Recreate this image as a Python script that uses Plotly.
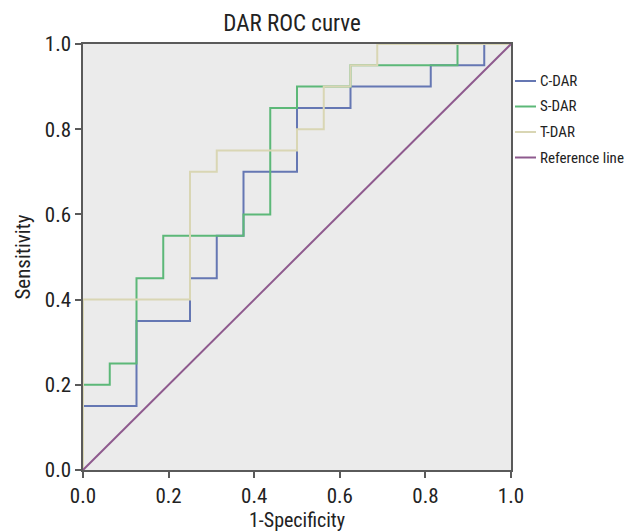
import plotly.graph_objects as go

# ROC operating points (1-Specificity, Sensitivity)
c_dar_fpr = [0, 0, 0.125, 0.25, 0.3125, 0.375, 0.5, 0.625, 0.8125, 0.9375, 1.0]
c_dar_tpr = [0, 0.15, 0.35, 0.45, 0.55, 0.70, 0.85, 0.90, 0.95, 1.0, 1.0]

s_dar_fpr = [0, 0, 0.0625, 0.125, 0.1875, 0.375, 0.4375, 0.5, 0.625, 0.875, 1.0]
s_dar_tpr = [0, 0.20, 0.25, 0.45, 0.55, 0.60, 0.85, 0.90, 0.95, 1.0, 1.0]

t_dar_fpr = [0, 0, 0.25, 0.3125, 0.5, 0.5625, 0.625, 0.6875, 1.0]
t_dar_tpr = [0, 0.40, 0.70, 0.75, 0.80, 0.90, 0.95, 1.0, 1.0]

ref_x = [0, 1]
ref_y = [0, 1]

series_names = ["C-DAR", "S-DAR", "T-DAR", "Reference line"]
series_colors = ["#6577b3", "#5cb878", "#d9d6b4", "#8e5a8e"]
tick_vals = [0, 0.2, 0.4, 0.6, 0.8, 1.0]
tick_text = ["0.0", "0.2", "0.4", "0.6", "0.8", "1.0"]

FONT = "Liberation Sans Narrow, Roboto Condensed, DejaVu Sans Condensed, Roboto, sans-serif"

fig = go.Figure()
data = [(c_dar_fpr, c_dar_tpr, "hv"), (s_dar_fpr, s_dar_tpr, "hv"),
        (t_dar_fpr, t_dar_tpr, "hv"), (ref_x, ref_y, "linear")]
for (xs, ys, shape), name, col in zip(data, series_names, series_colors):
    fig.add_trace(go.Scatter(x=xs, y=ys, mode="lines", name=name,
                             line=dict(color=col, width=2, shape=shape),
                             showlegend=False, cliponaxis=False))

# page body has an 8px margin: figure is sized/offset to compensate
OFF = 8
W, H = 633 - OFF, 532 - OFF
plot_left, plot_right, plot_top, plot_bottom = 83, 511, 44, 470  # page pixels

# legend drawn as annotations + short line shapes to the right of the plot
leg_top_px = 81
leg_step_px = 25.5
for i, (name, col) in enumerate(zip(series_names, series_colors)):
    ypx = leg_top_px + i * leg_step_px
    yp = (plot_bottom - ypx) / (plot_bottom - plot_top)
    x0 = (515 - plot_left) / (plot_right - plot_left)
    x1 = (536 - plot_left) / (plot_right - plot_left)
    xt = (538 - plot_left) / (plot_right - plot_left)
    fig.add_shape(type="line", xref="paper", yref="paper", x0=x0, x1=x1, y0=yp, y1=yp,
                  line=dict(color=col, width=2))
    fig.add_annotation(xref="paper", yref="paper", x=xt, y=yp, text=name, showarrow=False,
                       xanchor="left", yanchor="middle", font=dict(family=FONT, size=15, color="#222"))

fig.update_layout(
    width=W, height=H,
    margin=dict(l=plot_left - OFF, r=W - (plot_right - OFF), t=plot_top - OFF,
                b=H - (plot_bottom - OFF)),
    paper_bgcolor="white", plot_bgcolor="#ebebeb",
    font=dict(family=FONT, size=20, color="#222"),
    title=dict(text="DAR ROC curve", x=(292 - OFF) / W, xanchor="center", y=1 - (23 - OFF) / H,
               yanchor="middle", font=dict(family=FONT, size=23, color="#222")),
)
axis_common = dict(range=[0, 1], tickvals=tick_vals, ticktext=tick_text, showgrid=False,
                   zeroline=False, showline=True, linecolor="#5a5a5a", linewidth=1.5, mirror=True,
                   ticks="outside", ticklen=6, tickcolor="#5a5a5a", tickwidth=1.5, automargin=False,
                   tickfont=dict(family=FONT, size=21, color="#222"))
fig.update_xaxes(**axis_common, title=dict(text="1-Specificity", standoff=0,
                                           font=dict(family=FONT, size=20, color="#222")))
fig.update_yaxes(**axis_common, title=dict(text="Sensitivity", standoff=8,
                                           font=dict(family=FONT, size=21, color="#222")))

fig.write_html("out.html")
